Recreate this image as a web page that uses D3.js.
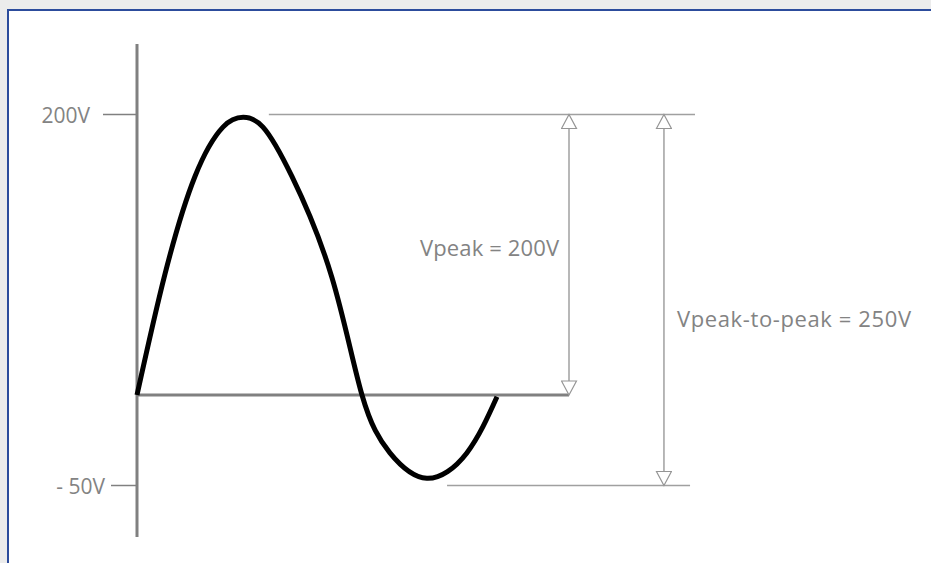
<!DOCTYPE html>
<html>
<head>
<meta charset="utf-8">
<script src="https://cdn.jsdelivr.net/npm/d3@7"></script>
<style>
  html, body { margin: 0; padding: 0; background: #ececec; }
  svg { display: block; }
  .lbl { font-family: "Open Sans", "Noto Sans", sans-serif; font-size: 21px; fill: #838383; }
  .ann { font-size: 22px; }
</style>
</head>
<body>
<div id="chart"></div>
<script>
// waveform: time (ms) and voltage (V)
const timeMs = [0, 0.62, 1.29, 1.91, 2.36, 2.8, 3.44, 4.33, 5.0,
                5.62, 6.44, 7.33, 8.0];
const volts  = [0, 86, 156, 191, 198, 191, 156, 84, 0,
                -32, -46, -32, -1];

// axis ticks
const tickValues = [200, -50];
const tickLabels = ["200V", "- 50V"];

// annotations
const vPeak = 200;
const vTrough = -50;
const vPeakLabel = "Vpeak = 200V";
const vppLabel = "Vpeak-to-peak = 250V";

const width = 931, height = 563;
const grey = "#808080", thin = "#a0a0a0";

const svg = d3.select("#chart").append("svg")
  .attr("width", width)
  .attr("height", height);

// white panel with blue frame (runs off right/bottom)
svg.append("rect")
  .attr("x", 8).attr("y", 10)
  .attr("width", width + 20).attr("height", height + 20)
  .attr("fill", "white")
  .attr("stroke", "#2c4c9c")
  .attr("stroke-width", 2);

const x = d3.scaleLinear().domain([0, 9.6]).range([137, 569]);
const y = d3.scaleLinear().domain([-50, 0, 200]).range([485.5, 395, 114.5]);

// hollow arrow head
svg.append("defs").append("marker")
  .attr("id", "arr")
  .attr("markerUnits", "userSpaceOnUse")
  .attr("viewBox", "0 0 17 17")
  .attr("markerWidth", 17).attr("markerHeight", 17)
  .attr("refX", 15).attr("refY", 8.5)
  .attr("orient", "auto-start-reverse")
  .append("path")
  .attr("d", "M1,1 L15,8.5 L1,16 Z")
  .attr("fill", "white")
  .attr("stroke", "#959595")
  .attr("stroke-width", 1.2);

// vertical axis
svg.append("line")
  .attr("x1", x(0)).attr("x2", x(0))
  .attr("y1", 44).attr("y2", 537)
  .attr("stroke", grey).attr("stroke-width", 3);

// ticks + labels
const tickLen = [34, 26];
const tickGap = [13, 6];
tickValues.forEach((v, i) => {
  svg.append("line")
    .attr("x1", x(0) - tickLen[i]).attr("x2", x(0))
    .attr("y1", y(v)).attr("y2", y(v))
    .attr("stroke", grey).attr("stroke-width", 1.5);
  svg.append("text")
    .attr("class", "lbl")
    .attr("text-anchor", "end")
    .attr("x", x(0) - tickLen[i] - tickGap[i])
    .attr("y", y(v) + 8)
    .text(tickLabels[i]);
});

// zero line
svg.append("line")
  .attr("x1", x(0)).attr("x2", x(9.6))
  .attr("y1", y(0)).attr("y2", y(0))
  .attr("stroke", grey).attr("stroke-width", 3);

// waveform
const pts = timeMs.map((t, i) => [t, volts[i]]);
const line = d3.line()
  .x(d => x(d[0]))
  .y(d => y(d[1]))
  .curve(d3.curveNatural);

svg.append("path")
  .datum(pts)
  .attr("d", line)
  .attr("fill", "none")
  .attr("stroke", "black")
  .attr("stroke-width", 5)
  .attr("stroke-linejoin", "round");

// reference lines at peak / trough
svg.append("line")
  .attr("x1", x(2.93)).attr("x2", x(12.4))
  .attr("y1", y(vPeak)).attr("y2", y(vPeak))
  .attr("stroke", thin).attr("stroke-width", 1.5);
svg.append("line")
  .attr("x1", x(6.89)).attr("x2", x(12.29))
  .attr("y1", y(vTrough)).attr("y2", y(vTrough))
  .attr("stroke", thin).attr("stroke-width", 1.5);

// arrows
const arrows = [
  {t: 9.6, top: vPeak, bottom: 0},
  {t: 11.71, top: vPeak, bottom: vTrough}
];
arrows.forEach(a => {
  svg.append("line")
    .attr("x1", x(a.t)).attr("x2", x(a.t))
    .attr("y1", y(a.top)).attr("y2", y(a.bottom))
    .attr("stroke", thin).attr("stroke-width", 1.5)
    .attr("marker-start", "url(#arr)")
    .attr("marker-end", "url(#arr)");
});

svg.append("text")
  .attr("class", "lbl ann")
  .attr("x", 420)
  .attr("y", 256)
  .attr("textLength", 139)
  .attr("lengthAdjust", "spacing")
  .text(vPeakLabel);

svg.append("text")
  .attr("class", "lbl ann")
  .attr("x", 677)
  .attr("y", 327)
  .attr("textLength", 234)
  .attr("lengthAdjust", "spacing")
  .text(vppLabel);
</script>
</body>
</html>
